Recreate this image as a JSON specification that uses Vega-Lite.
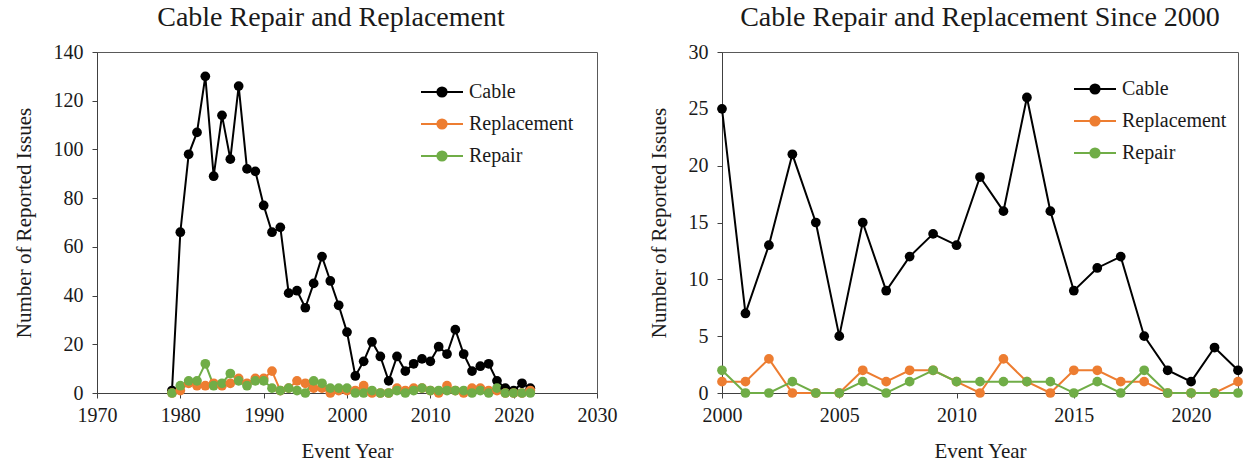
{
  "$schema": "https://vega.github.io/schema/vega-lite/v6.json",
  "padding": {"left": 12, "top": 3, "right": 0, "bottom": 0},
  "background": "white",
  "config": {
    "font": "Times New Roman, Liberation Serif, serif",
    "view": {"stroke": "#595959", "strokeWidth": 1},
    "axis": {"grid": false, "domainColor": "#404040", "tickColor": "#404040", "tickSize": 5, "labelFont": "Times New Roman, Liberation Serif, serif", "titleFont": "Times New Roman, Liberation Serif, serif", "labelFontSize": 20, "titleFontSize": 21, "titleFontWeight": "normal", "labelColor": "#1a1a1a", "titleColor": "#1a1a1a", "labelFlush": false},
    "title": {"font": "Times New Roman, Liberation Serif, serif", "fontSize": 28, "fontWeight": "normal", "color": "#1a1a1a"},
    "legend": {"labelFont": "Times New Roman, Liberation Serif, serif", "labelFontSize": 20, "labelColor": "#1a1a1a"},
    "concat": {"spacing": 29}
  },
  "datasets": {
    "wide": [
      {"year": 1979, "Cable": 1, "Replacement": 0, "Repair": 0},
      {"year": 1980, "Cable": 66, "Replacement": 1, "Repair": 3},
      {"year": 1981, "Cable": 98, "Replacement": 4, "Repair": 5},
      {"year": 1982, "Cable": 107, "Replacement": 3, "Repair": 5},
      {"year": 1983, "Cable": 130, "Replacement": 3, "Repair": 12},
      {"year": 1984, "Cable": 89, "Replacement": 4, "Repair": 3},
      {"year": 1985, "Cable": 114, "Replacement": 3, "Repair": 4},
      {"year": 1986, "Cable": 96, "Replacement": 4, "Repair": 8},
      {"year": 1987, "Cable": 126, "Replacement": 6, "Repair": 5},
      {"year": 1988, "Cable": 92, "Replacement": 4, "Repair": 3},
      {"year": 1989, "Cable": 91, "Replacement": 6, "Repair": 5},
      {"year": 1990, "Cable": 77, "Replacement": 6, "Repair": 5},
      {"year": 1991, "Cable": 66, "Replacement": 9, "Repair": 2},
      {"year": 1992, "Cable": 68, "Replacement": 1, "Repair": 1},
      {"year": 1993, "Cable": 41, "Replacement": 2, "Repair": 2},
      {"year": 1994, "Cable": 42, "Replacement": 5, "Repair": 1},
      {"year": 1995, "Cable": 35, "Replacement": 4, "Repair": 0},
      {"year": 1996, "Cable": 45, "Replacement": 2, "Repair": 5},
      {"year": 1997, "Cable": 56, "Replacement": 2, "Repair": 4},
      {"year": 1998, "Cable": 46, "Replacement": 0, "Repair": 2},
      {"year": 1999, "Cable": 36, "Replacement": 1, "Repair": 2},
      {"year": 2000, "Cable": 25, "Replacement": 1, "Repair": 2},
      {"year": 2001, "Cable": 7, "Replacement": 1, "Repair": 0},
      {"year": 2002, "Cable": 13, "Replacement": 3, "Repair": 0},
      {"year": 2003, "Cable": 21, "Replacement": 0, "Repair": 1},
      {"year": 2004, "Cable": 15, "Replacement": 0, "Repair": 0},
      {"year": 2005, "Cable": 5, "Replacement": 0, "Repair": 0},
      {"year": 2006, "Cable": 15, "Replacement": 2, "Repair": 1},
      {"year": 2007, "Cable": 9, "Replacement": 1, "Repair": 0},
      {"year": 2008, "Cable": 12, "Replacement": 2, "Repair": 1},
      {"year": 2009, "Cable": 14, "Replacement": 2, "Repair": 2},
      {"year": 2010, "Cable": 13, "Replacement": 1, "Repair": 1},
      {"year": 2011, "Cable": 19, "Replacement": 0, "Repair": 1},
      {"year": 2012, "Cable": 16, "Replacement": 3, "Repair": 1},
      {"year": 2013, "Cable": 26, "Replacement": 1, "Repair": 1},
      {"year": 2014, "Cable": 16, "Replacement": 0, "Repair": 1},
      {"year": 2015, "Cable": 9, "Replacement": 2, "Repair": 0},
      {"year": 2016, "Cable": 11, "Replacement": 2, "Repair": 1},
      {"year": 2017, "Cable": 12, "Replacement": 1, "Repair": 0},
      {"year": 2018, "Cable": 5, "Replacement": 1, "Repair": 2},
      {"year": 2019, "Cable": 2, "Replacement": 0, "Repair": 0},
      {"year": 2020, "Cable": 1, "Replacement": 0, "Repair": 0},
      {"year": 2021, "Cable": 4, "Replacement": 0, "Repair": 0},
      {"year": 2022, "Cable": 2, "Replacement": 1, "Repair": 0}
    ]
  },
  "resolve": {"scale": {"x": "independent", "y": "independent"}, "legend": {"stroke": "independent", "fill": "independent"}},
  "hconcat": [
    {
      "width": 500,
      "height": 341,
      "title": {"text": "Cable Repair and Replacement", "offset": 10, "dx": -16},
      "data": {"name": "wide"},
      "transform": [{"fold": ["Cable", "Replacement", "Repair"], "as": ["series", "value"]}],
      "encoding": {
        "x": {"field": "year", "type": "quantitative", "title": "Event Year", "scale": {"domain": [1970, 2030], "nice": false, "zero": false}, "axis": {"values": [1970, 1980, 1990, 2000, 2010, 2020, 2030], "format": "d", "labelPadding": 7, "titlePadding": 15}},
        "y": {"field": "value", "type": "quantitative", "title": "Number of Reported Issues", "scale": {"domain": [0, 140], "nice": false}, "axis": {"values": [0, 20, 40, 60, 80, 100, 120, 140], "labelPadding": 9, "titlePadding": 19}}
      },
      "layer": [
        {
          "mark": {"type": "line", "strokeWidth": 2},
          "encoding": {
            "stroke": {"field": "series", "type": "nominal", "scale": {"domain": ["Cable", "Replacement", "Repair"], "range": ["#000000", "#ED7D31", "#70AD47"]},
              "legend": {"title": null, "orient": "none", "legendX": 323, "legendY": 18, "symbolType": "M-1,0H1M0.22,0A0.22,0.22,0,1,1,-0.22,0A0.22,0.22,0,1,1,0.22,0Z", "symbolSize": 1764, "symbolStrokeWidth": 2, "rowPadding": -6, "labelOffset": 5}},
            "detail": {"field": "series"}
          }
        },
        {
          "mark": {"type": "point", "filled": true, "size": 95, "opacity": 1, "strokeWidth": 0},
          "encoding": {
            "fill": {"field": "series", "type": "nominal", "scale": {"domain": ["Cable", "Replacement", "Repair"], "range": ["#000000", "#ED7D31", "#70AD47"]},
              "legend": {"title": null, "orient": "none", "legendX": 323, "legendY": 18, "symbolType": "M-1,0H1M0.22,0A0.22,0.22,0,1,1,-0.22,0A0.22,0.22,0,1,1,0.22,0Z", "symbolSize": 1764, "symbolStrokeWidth": 2, "rowPadding": -6, "labelOffset": 5}}
          }
        }
      ]
    },
    {
      "width": 516,
      "height": 341,
      "title": {"text": "Cable Repair and Replacement Since 2000", "offset": 10},
      "data": {"name": "wide"},
      "transform": [{"filter": "datum.year >= 2000"}, {"fold": ["Cable", "Replacement", "Repair"], "as": ["series", "value"]}],
      "encoding": {
        "x": {"field": "year", "type": "quantitative", "title": "Event Year", "scale": {"domain": [2000, 2022], "nice": false, "zero": false}, "axis": {"values": [2000, 2005, 2010, 2015, 2020], "format": "d", "labelPadding": 7, "titlePadding": 15}},
        "y": {"field": "value", "type": "quantitative", "title": "Number of Reported Issues", "scale": {"domain": [0, 30], "nice": false}, "axis": {"values": [0, 5, 10, 15, 20, 25, 30], "labelPadding": 9, "titlePadding": 19}}
      },
      "layer": [
        {
          "mark": {"type": "line", "strokeWidth": 2},
          "encoding": {
            "stroke": {"field": "series", "type": "nominal", "scale": {"domain": ["Cable", "Replacement", "Repair"], "range": ["#000000", "#ED7D31", "#70AD47"]},
              "legend": {"title": null, "orient": "none", "legendX": 351, "legendY": 15, "symbolType": "M-1,0H1M0.22,0A0.22,0.22,0,1,1,-0.22,0A0.22,0.22,0,1,1,0.22,0Z", "symbolSize": 1764, "symbolStrokeWidth": 2, "rowPadding": -6, "labelOffset": 5}},
            "detail": {"field": "series"}
          }
        },
        {
          "mark": {"type": "point", "filled": true, "size": 95, "opacity": 1, "strokeWidth": 0},
          "encoding": {
            "fill": {"field": "series", "type": "nominal", "scale": {"domain": ["Cable", "Replacement", "Repair"], "range": ["#000000", "#ED7D31", "#70AD47"]},
              "legend": {"title": null, "orient": "none", "legendX": 351, "legendY": 15, "symbolType": "M-1,0H1M0.22,0A0.22,0.22,0,1,1,-0.22,0A0.22,0.22,0,1,1,0.22,0Z", "symbolSize": 1764, "symbolStrokeWidth": 2, "rowPadding": -6, "labelOffset": 5}}
          }
        }
      ]
    }
  ]
}
